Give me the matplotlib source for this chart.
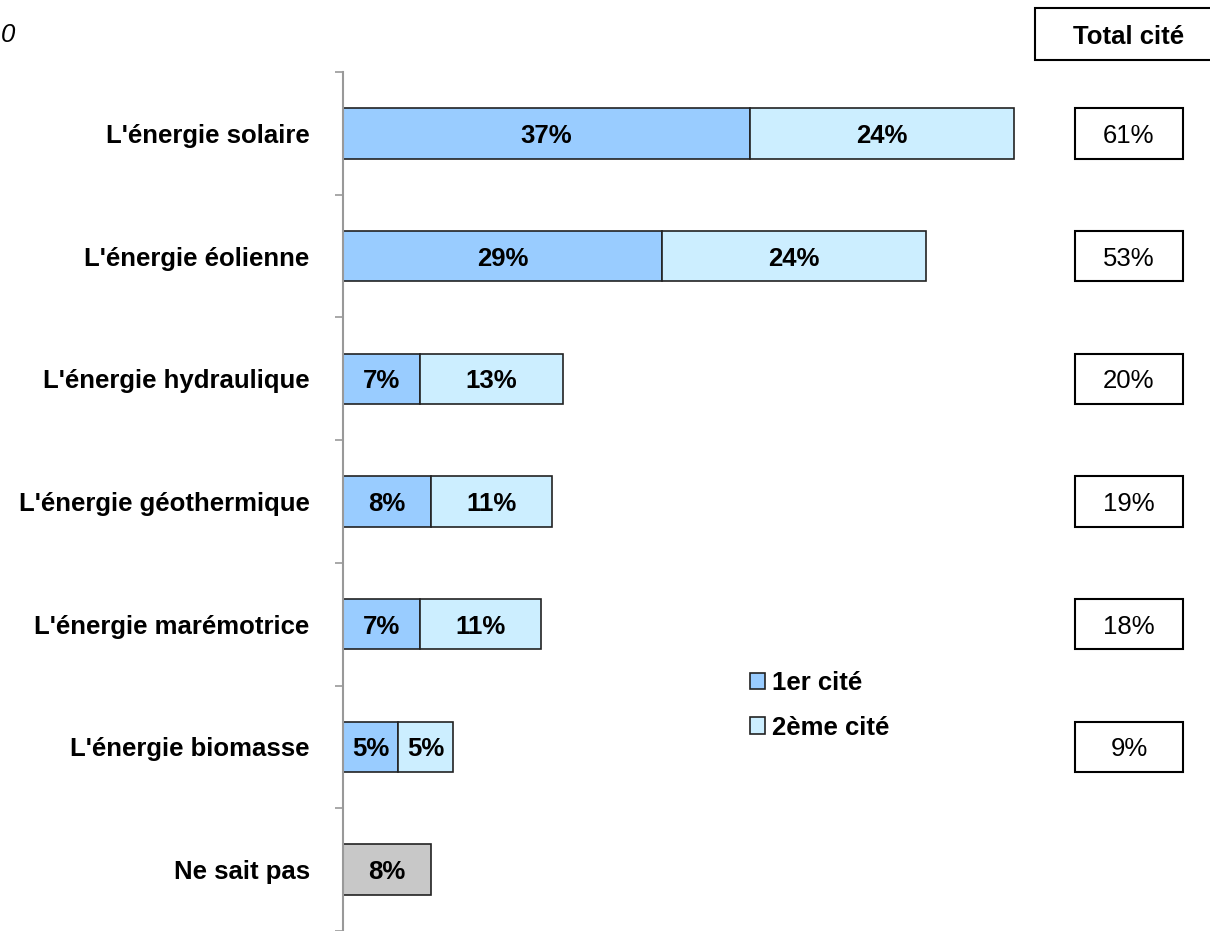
import matplotlib
matplotlib.use("Agg")
import matplotlib.pyplot as plt
from matplotlib.patches import Patch, Rectangle
from matplotlib.transforms import blended_transform_factory

plt.rcParams["font.family"] = ["Liberation Sans", "DejaVu Sans"]

# ---------------------------------------------------------------------------
# Data
# ---------------------------------------------------------------------------

categories = [
    "L'énergie solaire",
    "L'énergie éolienne",
    "L'énergie hydraulique",
    "L'énergie géothermique",
    "L'énergie marémotrice",
    "L'énergie biomasse",
    "Ne sait pas",
]
first_cited = [37, 29, 7, 8, 7, 5, None]
second_cited = [24, 24, 13, 11, 11, 5, None]
dont_know = [None, None, None, None, None, None, 8]
total_cited = [61, 53, 20, 19, 18, 9, None]

series_names = ["1er cité", "2ème cité"]

# ---------------------------------------------------------------------------
# Styles
# ---------------------------------------------------------------------------

C_FIRST = "#99ccff"
C_SECOND = "#cceeff"
C_NSP = "#c8c8c8"
EDGE = "#222222"
FS = 18.5
W, H = 1210, 931

fig = plt.figure(figsize=(W / 100, H / 100), dpi=100)
ax = fig.add_axes([343 / W, 0.0, 1 - 343 / W, 1 - 72 / H])

n = len(categories)
ys = list(range(n))
bar_h = 0.41
VA = "center_baseline"

for y, a, b, c in zip(ys, first_cited, second_cited, dont_know):
    if a is not None:
        ax.barh(y, a, height=bar_h, color=C_FIRST, edgecolor=EDGE, linewidth=1.2)
        ax.text(a / 2, y, f"{a}%", ha="center", va=VA, fontsize=FS, fontweight="bold")
    if b is not None:
        ax.barh(y, b, left=a, height=bar_h, color=C_SECOND, edgecolor=EDGE, linewidth=1.2)
        ax.text(a + b / 2, y, f"{b}%", ha="center", va=VA, fontsize=FS, fontweight="bold")
    if c is not None:
        ax.barh(y, c, height=bar_h, color=C_NSP, edgecolor=EDGE, linewidth=1.2)
        ax.text(c / 2, y, f"{c}%", ha="center", va=VA, fontsize=FS, fontweight="bold")

ax.set_xlim(0, (W - 343) / 11.0)
ax.set_ylim(n - 0.5, -0.5)

ax.set_yticks(ys)
ax.set_yticklabels(categories, fontsize=FS, fontweight="bold")
ax.set_yticks([i - 0.5 for i in range(n + 1)], minor=True)
ax.tick_params(axis="y", which="major", length=0, pad=24)
ax.tick_params(axis="y", which="minor", length=6, color="#999999", width=1.2)
ax.set_xticks([])

for side in ("top", "right", "bottom"):
    ax.spines[side].set_visible(False)
ax.spines["left"].set_color("#999999")
ax.spines["left"].set_linewidth(1.5)

# Total boxes on the right (x in figure fraction, y in data)
tr = blended_transform_factory(fig.transFigure, ax.transData)
for y, t in zip(ys, total_cited):
    if t is None:
        continue
    rect = Rectangle((1075 / W, y - bar_h / 2), 108 / W, bar_h, transform=tr,
                     facecolor="white", edgecolor="black", linewidth=1.5, clip_on=False)
    ax.add_patch(rect)
    ax.text(1129 / W, y, f"{t}%", transform=tr, ha="center", va=VA, fontsize=FS)

# "Total cité" header
fig.patches.append(Rectangle((1035 / W, 1 - 60 / H), 200 / W, 52 / H, transform=fig.transFigure,
                             facecolor="white", edgecolor="black", linewidth=1.5))
fig.text(1129 / W, 1 - 35 / H, "Total cité", ha="center", va=VA,
         fontsize=FS, fontweight="bold")

# truncated base note at top-left
fig.text(1 / W, 1 - 32 / H, "0", ha="left", va=VA, fontsize=FS, fontstyle="italic")

handles = [
    Patch(facecolor=C_FIRST, edgecolor=EDGE, linewidth=1.2),
    Patch(facecolor=C_SECOND, edgecolor=EDGE, linewidth=1.2),
]
fig.legend(handles, series_names, loc="upper left", bbox_to_anchor=(750 / W, 1 - 671 / H),
           frameon=False, prop={"size": FS, "weight": "bold"},
           handlelength=0.6, handleheight=0.6, handletextpad=0.25, labelspacing=0.8,
           borderpad=0, borderaxespad=0)

fig.savefig("out.png", dpi=100)
